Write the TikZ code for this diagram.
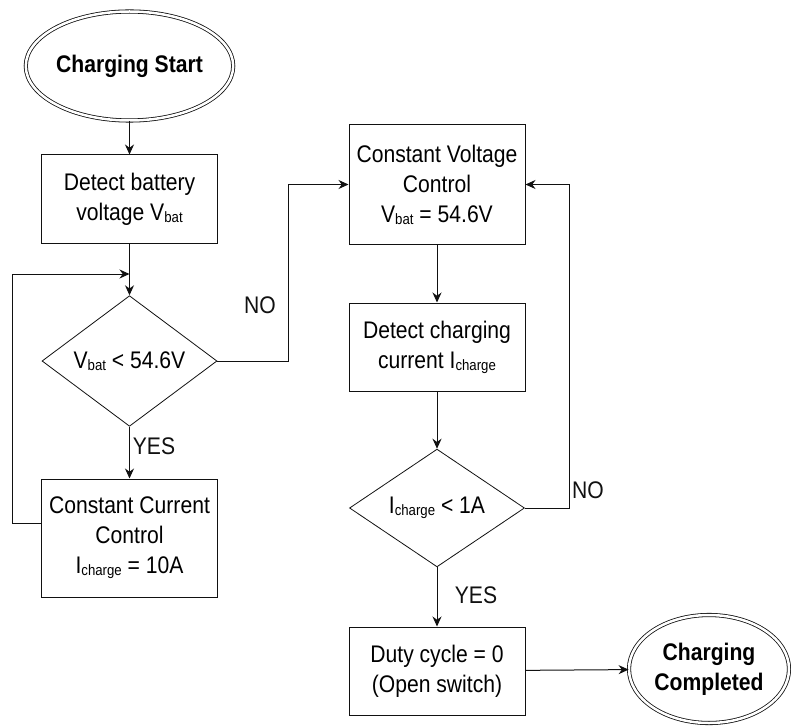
\documentclass[tikz,border=0pt]{standalone}
\usepackage{fontspec}
\setmainfont{Liberation Sans}[FakeStretch=0.88]
\usepackage{tikz}
\usetikzlibrary{shapes.geometric,arrows.meta,positioning}
\definecolor{FlowInk}{HTML}{111111}
\newcommand{\lowsub}[1]{\raisebox{-2pt}{\fontsize{15}{15}\selectfont #1}}

\begin{document}
\begin{tikzpicture}[x=1pt, y=-1pt,
  font=\fontsize{24}{30}\selectfont,
  proc/.style={draw=FlowInk, line width=1pt, align=center, inner sep=0pt, minimum width=176pt},
  decide/.style={draw=FlowInk, diamond, line width=0.8pt, inner sep=0pt, minimum width=175pt, minimum height=116pt},
  term/.style={draw=FlowInk, ellipse, double, double distance=2.5pt, line width=0.8pt, align=center, inner sep=0pt, font=\fontsize{24}{30}\selectfont\bfseries},
  arr/.style={-{Stealth[length=10pt,width=9pt]}, line width=1pt, draw=FlowInk},
  lbl/.style={text=FlowInk, inner sep=0pt}]

\useasboundingbox[fill=white] (0,0) rectangle (791,727);

% left column
\node[term, minimum width=171pt, minimum height=109pt] (start) at (129.5,66) {Charging Start};
\node[proc, minimum height=88pt] (detv) at (129.5,199) {Detect battery\\voltage V\lowsub{bat}};
\node[decide] (dia1) at (129.5,361) {V\lowsub{bat} < 54.6V};
\node[proc, minimum height=118pt] (cc) at (129.5,538) {Constant Current\\Control\\I\lowsub{charge} = 10A};
\coordinate (loopin) at (129.5,274);

% right column
\node[proc, minimum height=119pt] (cv) at (437,184.5) {Constant Voltage\\Control\\V\lowsub{bat} = 54.6V};
\node[proc, minimum height=88pt] (detc) at (437,347) {Detect charging\\current I\lowsub{charge}};
\node[decide] (dia2) at (437,508) {I\lowsub{charge} < 1A};
\node[proc, minimum height=88pt] (duty) at (437,671) {Duty cycle = 0\\(Open switch)};
\node[term, minimum width=160pt, minimum height=108pt] (done) at (709,669) {Charging\\Completed};

% branch labels
\node[lbl] (no1) at (260,305) {NO};
\node[lbl] (yes1) at (154,446) {YES};
\node[lbl] (no2) at (588,490) {NO};
\node[lbl] (yes2) at (476,595) {YES};

% connectors
\draw[arr] (start) -- (detv);
\draw[arr] (detv) -- (dia1);
\draw[arr] (dia1) -- (cc);
\draw[arr] ([yshift=15pt]cc.west) -- ++(-29,0) |- (loopin);
\draw[arr] (dia1.east) -- ++(71,0) |- (cv.west);
\draw[arr] (cv) -- (detc);
\draw[arr] (detc) -- (dia2);
\draw[arr] (dia2) -- (duty);
\draw[arr] (dia2.east) -- ++(45,0) |- (cv.east);
\draw[arr] (duty) -- (done);
\end{tikzpicture}
\end{document}
